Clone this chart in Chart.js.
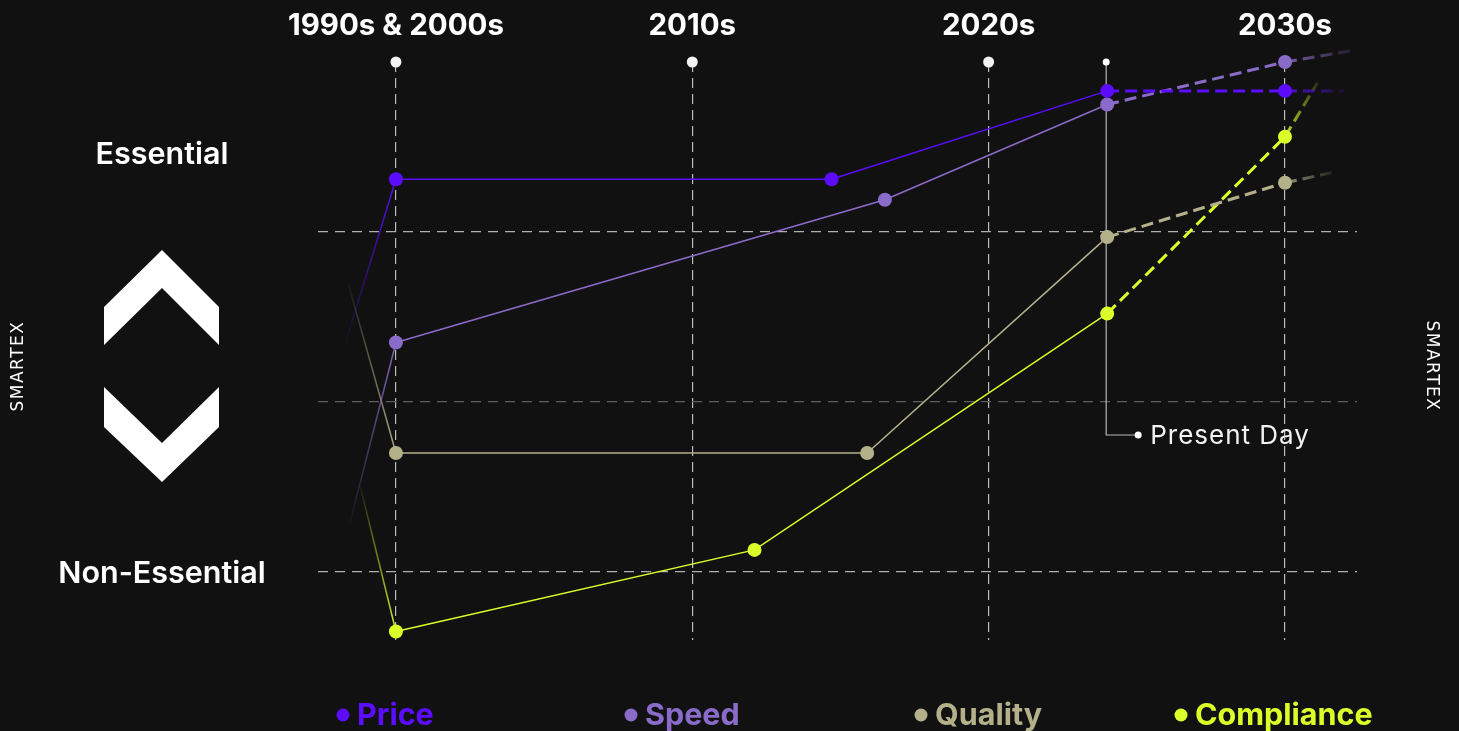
<!DOCTYPE html>
<html>
<head>
<meta charset="utf-8">
<title>Feature priorities over time</title>
<script src="https://cdn.jsdelivr.net/npm/chart.js@4.4.1/dist/chart.umd.min.js"></script>
<style>
  html, body { margin: 0; padding: 0; background: #111111; }
  #wrap { position: relative; width: 1459px; height: 731px; }
</style>
</head>
<body>
<div id="wrap"><canvas id="chart" width="1459" height="731"></canvas></div>
<script>
// Timeline (x) and importance score (y: 0 = Non-Essential, 2 = Essential)
const decadeTicks  = [2000, 2010, 2020, 2030];
const decadeLabels = ['1990s & 2000s', '2010s', '2020s', '2030s'];
const presentYear  = 2024;
const levelTicks   = [0, 1, 2];
const levelLabels  = ['Non-Essential', 'Essential'];

// First entry is the lead-in from the past, last entry the run-out into the future
const priceYears = [1998.3, 2000, 2014.7, 2024, 2030, 2032.0];
const priceScores = [1.35, 2.31, 2.31, 2.83, 2.83, 2.83];

const speedYears = [1998.45, 2000, 2016.5, 2024, 2030, 2032.35];
const speedScores = [0.29, 1.35, 2.19, 2.75, 3.0, 3.07];

const qualityYears = [1998.4, 2000, 2015.9, 2024, 2030, 2031.6];
const qualityScores = [1.69, 0.70, 0.70, 1.97, 2.29, 2.35];

const complianceYears = [1998.8, 2000, 2012.1, 2024, 2030, 2031.1];
const complianceScores = [0.50, -0.35, 0.13, 1.52, 2.56, 2.88];

const seriesNames  = ['Price', 'Speed', 'Quality', 'Compliance'];
const seriesColors = ['#5c0dff', '#8b6bca', '#b4b18a', '#dcff2a'];

const FONT = "Inter, 'Noto Sans', sans-serif";

function rgba(hex, a) {
  const n = parseInt(hex.slice(1), 16);
  return `rgba(${(n >> 16) & 255},${(n >> 8) & 255},${n & 255},${a})`;
}

function toPoints(xs, ys) {
  return xs.map((x, i) => ({ x, y: ys[i] }));
}

function makeDataset(name, color, xs, ys) {
  const last = xs.length - 1;
  return {
    label: name,
    data: toPoints(xs, ys),
    borderColor: color,
    backgroundColor: color,
    pointBackgroundColor: color,
    pointBorderWidth: 0,
    pointRadius: c => (c.dataIndex === 0 || c.dataIndex === last) ? 0 : 7,
    borderWidth: 1.5,
    tension: 0,
    clip: false,
    segment: {
      borderColor: c => {
        const lead = c.p0DataIndex === 0;
        const tail = c.p1DataIndex === last;
        if (!lead && !tail) return color;
        const g = c.chart.ctx.createLinearGradient(c.p0.x, c.p0.y, c.p1.x, c.p1.y);
        if (lead) { g.addColorStop(0, rgba(color, 0.05)); g.addColorStop(1, rgba(color, 0.95)); }
        else { g.addColorStop(0, rgba(color, 0.85)); g.addColorStop(1, rgba(color, 0.12)); }
        return g;
      },
      borderDash: c => xs[c.p0DataIndex] >= presentYear - 0.01 ? [12, 6] : [],
      borderWidth: c => xs[c.p0DataIndex] >= presentYear - 0.01 ? 3 : 1.5
    }
  };
}

const datasets = [
  makeDataset(seriesNames[0], seriesColors[0], priceYears, priceScores),
  makeDataset(seriesNames[1], seriesColors[1], speedYears, speedScores),
  makeDataset(seriesNames[2], seriesColors[2], qualityYears, qualityScores),
  makeDataset(seriesNames[3], seriesColors[3], complianceYears, complianceScores)
];

const background = {
  id: 'background',
  beforeDraw(chart) {
    const { ctx, width, height } = chart;
    ctx.save();
    ctx.fillStyle = '#111111';
    ctx.fillRect(0, 0, width, height);
    ctx.restore();
  }
};

// Decade markers, "Present Day" marker, side labels, arrows, brand and legend
const decorations = {
  id: 'decorations',
  beforeDatasetsDraw(chart) {
    const { ctx, scales: { x }, chartArea } = chart;
    const top = chartArea.top;
    ctx.save();
    // present day guide
    const px = x.getPixelForValue(presentYear) - 1;
    const py = 435;
    ctx.strokeStyle = '#b5b5b5';
    ctx.lineWidth = 1.2;
    ctx.beginPath();
    ctx.moveTo(px, top);
    ctx.lineTo(px, py);
    ctx.lineTo(px + 32, py);
    ctx.stroke();
    ctx.fillStyle = '#ffffff';
    ctx.beginPath(); ctx.arc(px + 32, py, 3.5, 0, Math.PI * 2); ctx.fill();
    ctx.beginPath(); ctx.arc(px, top, 3.5, 0, Math.PI * 2); ctx.fill();
    ctx.font = `400 26px ${FONT}`;
    if ('letterSpacing' in ctx) ctx.letterSpacing = '1px';
    ctx.fillStyle = '#f2f2f2';
    ctx.textBaseline = 'middle';
    ctx.textAlign = 'left';
    ctx.fillText('Present Day', px + 44, py + 1);
    if ('letterSpacing' in ctx) ctx.letterSpacing = '0px';
    // decade dots
    decadeTicks.forEach(t => {
      ctx.beginPath();
      ctx.arc(x.getPixelForValue(t), top, 5.5, 0, Math.PI * 2);
      ctx.fill();
    });
    ctx.restore();
  },
  afterDraw(chart) {
    const { ctx, scales: { y } } = chart;
    ctx.save();
    ctx.fillStyle = '#ffffff';
    ctx.textAlign = 'center';
    ctx.textBaseline = 'middle';
    ctx.font = `600 30.5px ${FONT}`;
    ctx.fillText(levelLabels[1], 162, 155);
    ctx.fillText(levelLabels[0], 162, y.getPixelForValue(levelTicks[0]) + 2);

    // up / down chevrons
    ctx.beginPath();
    [[162,250],[219,307],[219,345],[162,288],[104,345],[104,307]].forEach((p, i) => i ? ctx.lineTo(p[0], p[1]) : ctx.moveTo(p[0], p[1]));
    ctx.closePath(); ctx.fill();
    ctx.beginPath();
    [[104,387],[162,443],[219,387],[219,427],[162,482],[104,427]].forEach((p, i) => i ? ctx.lineTo(p[0], p[1]) : ctx.moveTo(p[0], p[1]));
    ctx.closePath(); ctx.fill();

    // brand marks
    ctx.font = `400 17px 'DejaVu Sans', sans-serif`;
    if ('letterSpacing' in ctx) ctx.letterSpacing = '1.5px';
    ctx.save();
    ctx.translate(19, 366); ctx.rotate(-Math.PI / 2);
    ctx.fillText('SMARTEX', 0, 0);
    ctx.restore();
    ctx.save();
    ctx.translate(1431, 366); ctx.rotate(Math.PI / 2);
    ctx.fillText('SMARTEX', 0, 0);
    ctx.restore();
    if ('letterSpacing' in ctx) ctx.letterSpacing = '0px';

    // legend
    const legendX = [343, 631, 921, 1181];
    ctx.font = `700 30.5px ${FONT}`;
    ctx.textAlign = 'left';
    seriesNames.forEach((name, i) => {
      ctx.fillStyle = seriesColors[i];
      ctx.beginPath(); ctx.arc(legendX[i], 715, 6.5, 0, Math.PI * 2); ctx.fill();
      ctx.fillText(name, legendX[i] + 14, 716);
    });
    ctx.restore();
  }
};

new Chart(document.getElementById('chart'), {
  type: 'line',
  data: { datasets },
  options: {
    responsive: false,
    animation: false,
    events: [],
    layout: { padding: { left: 318, right: 102, top: 0, bottom: 91 } },
    plugins: { legend: { display: false }, tooltip: { enabled: false } },
    scales: {
      x: {
        type: 'linear',
        position: 'top',
        min: 1997.37,
        max: 2032.43,
        afterBuildTicks: s => { s.ticks = decadeTicks.map(v => ({ value: v })); },
        afterFit: s => { s.height = 62; },
        ticks: {
          color: '#ffffff',
          padding: 18,
          font: { family: FONT, size: 29.5, weight: '700' },
          callback: v => decadeLabels[decadeTicks.indexOf(v)]
        },
        grid: { color: '#bdbdbd', lineWidth: 1.2, drawTicks: false },
        border: { display: false, dash: [10, 6] }
      },
      y: {
        type: 'linear',
        min: -0.4,
        max: 3.0,
        afterBuildTicks: s => { s.ticks = levelTicks.map(v => ({ value: v })); },
        afterFit: s => { s.width = 0; },
        ticks: { display: false },
        grid: {
          color: c => c.tick && c.tick.value === 1 ? '#5e5e5e' : '#b0b0b0',
          lineWidth: 1.2,
          drawTicks: false
        },
        border: { display: false, dash: [10, 7] }
      }
    }
  },
  plugins: [background, decorations]
});
</script>
</body>
</html>
